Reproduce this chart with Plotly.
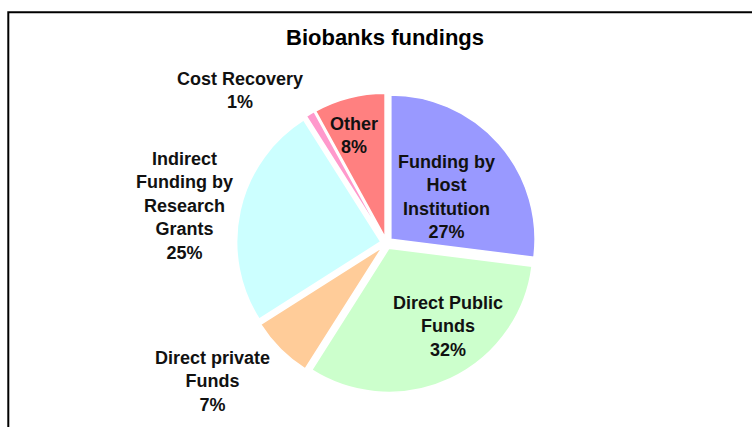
import plotly.graph_objects as go

# Funding sources for biobanks, in clockwise order starting at 12 o'clock
categories = [
    "Funding by Host Institution",
    "Direct Public Funds",
    "Direct private Funds",
    "Indirect Funding by Research Grants",
    "Cost Recovery",
    "Other",
]
shares = [27, 32, 7, 25, 1, 8]
label_lines = [
    "Funding by<br>Host<br>Institution",
    "Direct Public<br>Funds",
    "Direct private<br>Funds",
    "Indirect<br>Funding by<br>Research<br>Grants",
    "Cost Recovery",
    "Other",
]
colors = ["#9999FF", "#CCFFCC", "#FFCC99", "#CCFFFF", "#FF99CC", "#FF8080"]

W, H = 752, 427
FONT = "Liberation Sans, Arial, sans-serif"

# pie placement (pixels)
cx, cy, half = 386.5, 243, 150

fig = go.Figure(
    go.Pie(
        labels=categories,
        values=shares,
        sort=False,
        direction="clockwise",
        rotation=0,
        pull=[0.04] * len(shares),
        marker=dict(colors=colors, line=dict(color="white", width=1.5)),
        textinfo="none",
        hoverinfo="label+percent",
        showlegend=False,
        domain=dict(
            x=[(cx - half) / W, (cx + half) / W],
            y=[(H - cy - half) / H, (H - cy + half) / H],
        ),
    )
)

# label anchor points (pixel centres of each text block)
label_pos = [
    (446, 197),
    (448, 326),
    (212, 381),
    (184, 206),
    (240, 90),
    (354, 135),
]

annotations = []
for text, val, (px, py) in zip(label_lines, shares, label_pos):
    annotations.append(
        dict(
            text=f"<b>{text}<br>{val}%</b>",
            x=px / W,
            y=1 - py / H,
            xref="paper",
            yref="paper",
            xanchor="center",
            yanchor="middle",
            showarrow=False,
            align="center",
            font=dict(family=FONT, size=18, color="#111111"),
        )
    )

annotations.append(
    dict(
        text="<b>Biobanks fundings</b>",
        x=385 / W,
        y=1 - 38 / H,
        xref="paper",
        yref="paper",
        xanchor="center",
        yanchor="middle",
        showarrow=False,
        font=dict(family=FONT, size=22, color="black"),
    )
)

fig.update_layout(
    width=W,
    height=H,
    margin=dict(l=0, r=0, t=0, b=0),
    paper_bgcolor="white",
    plot_bgcolor="white",
    annotations=annotations,
    shapes=[
        dict(
            type="rect",
            xref="paper",
            yref="paper",
            x0=8.3 / W,
            x1=1.05,
            y0=-0.05,
            y1=1 - 12.3 / H,
            line=dict(color="black", width=2),
            fillcolor="rgba(0,0,0,0)",
            layer="above",
        )
    ],
)

fig.write_html("out.html")
